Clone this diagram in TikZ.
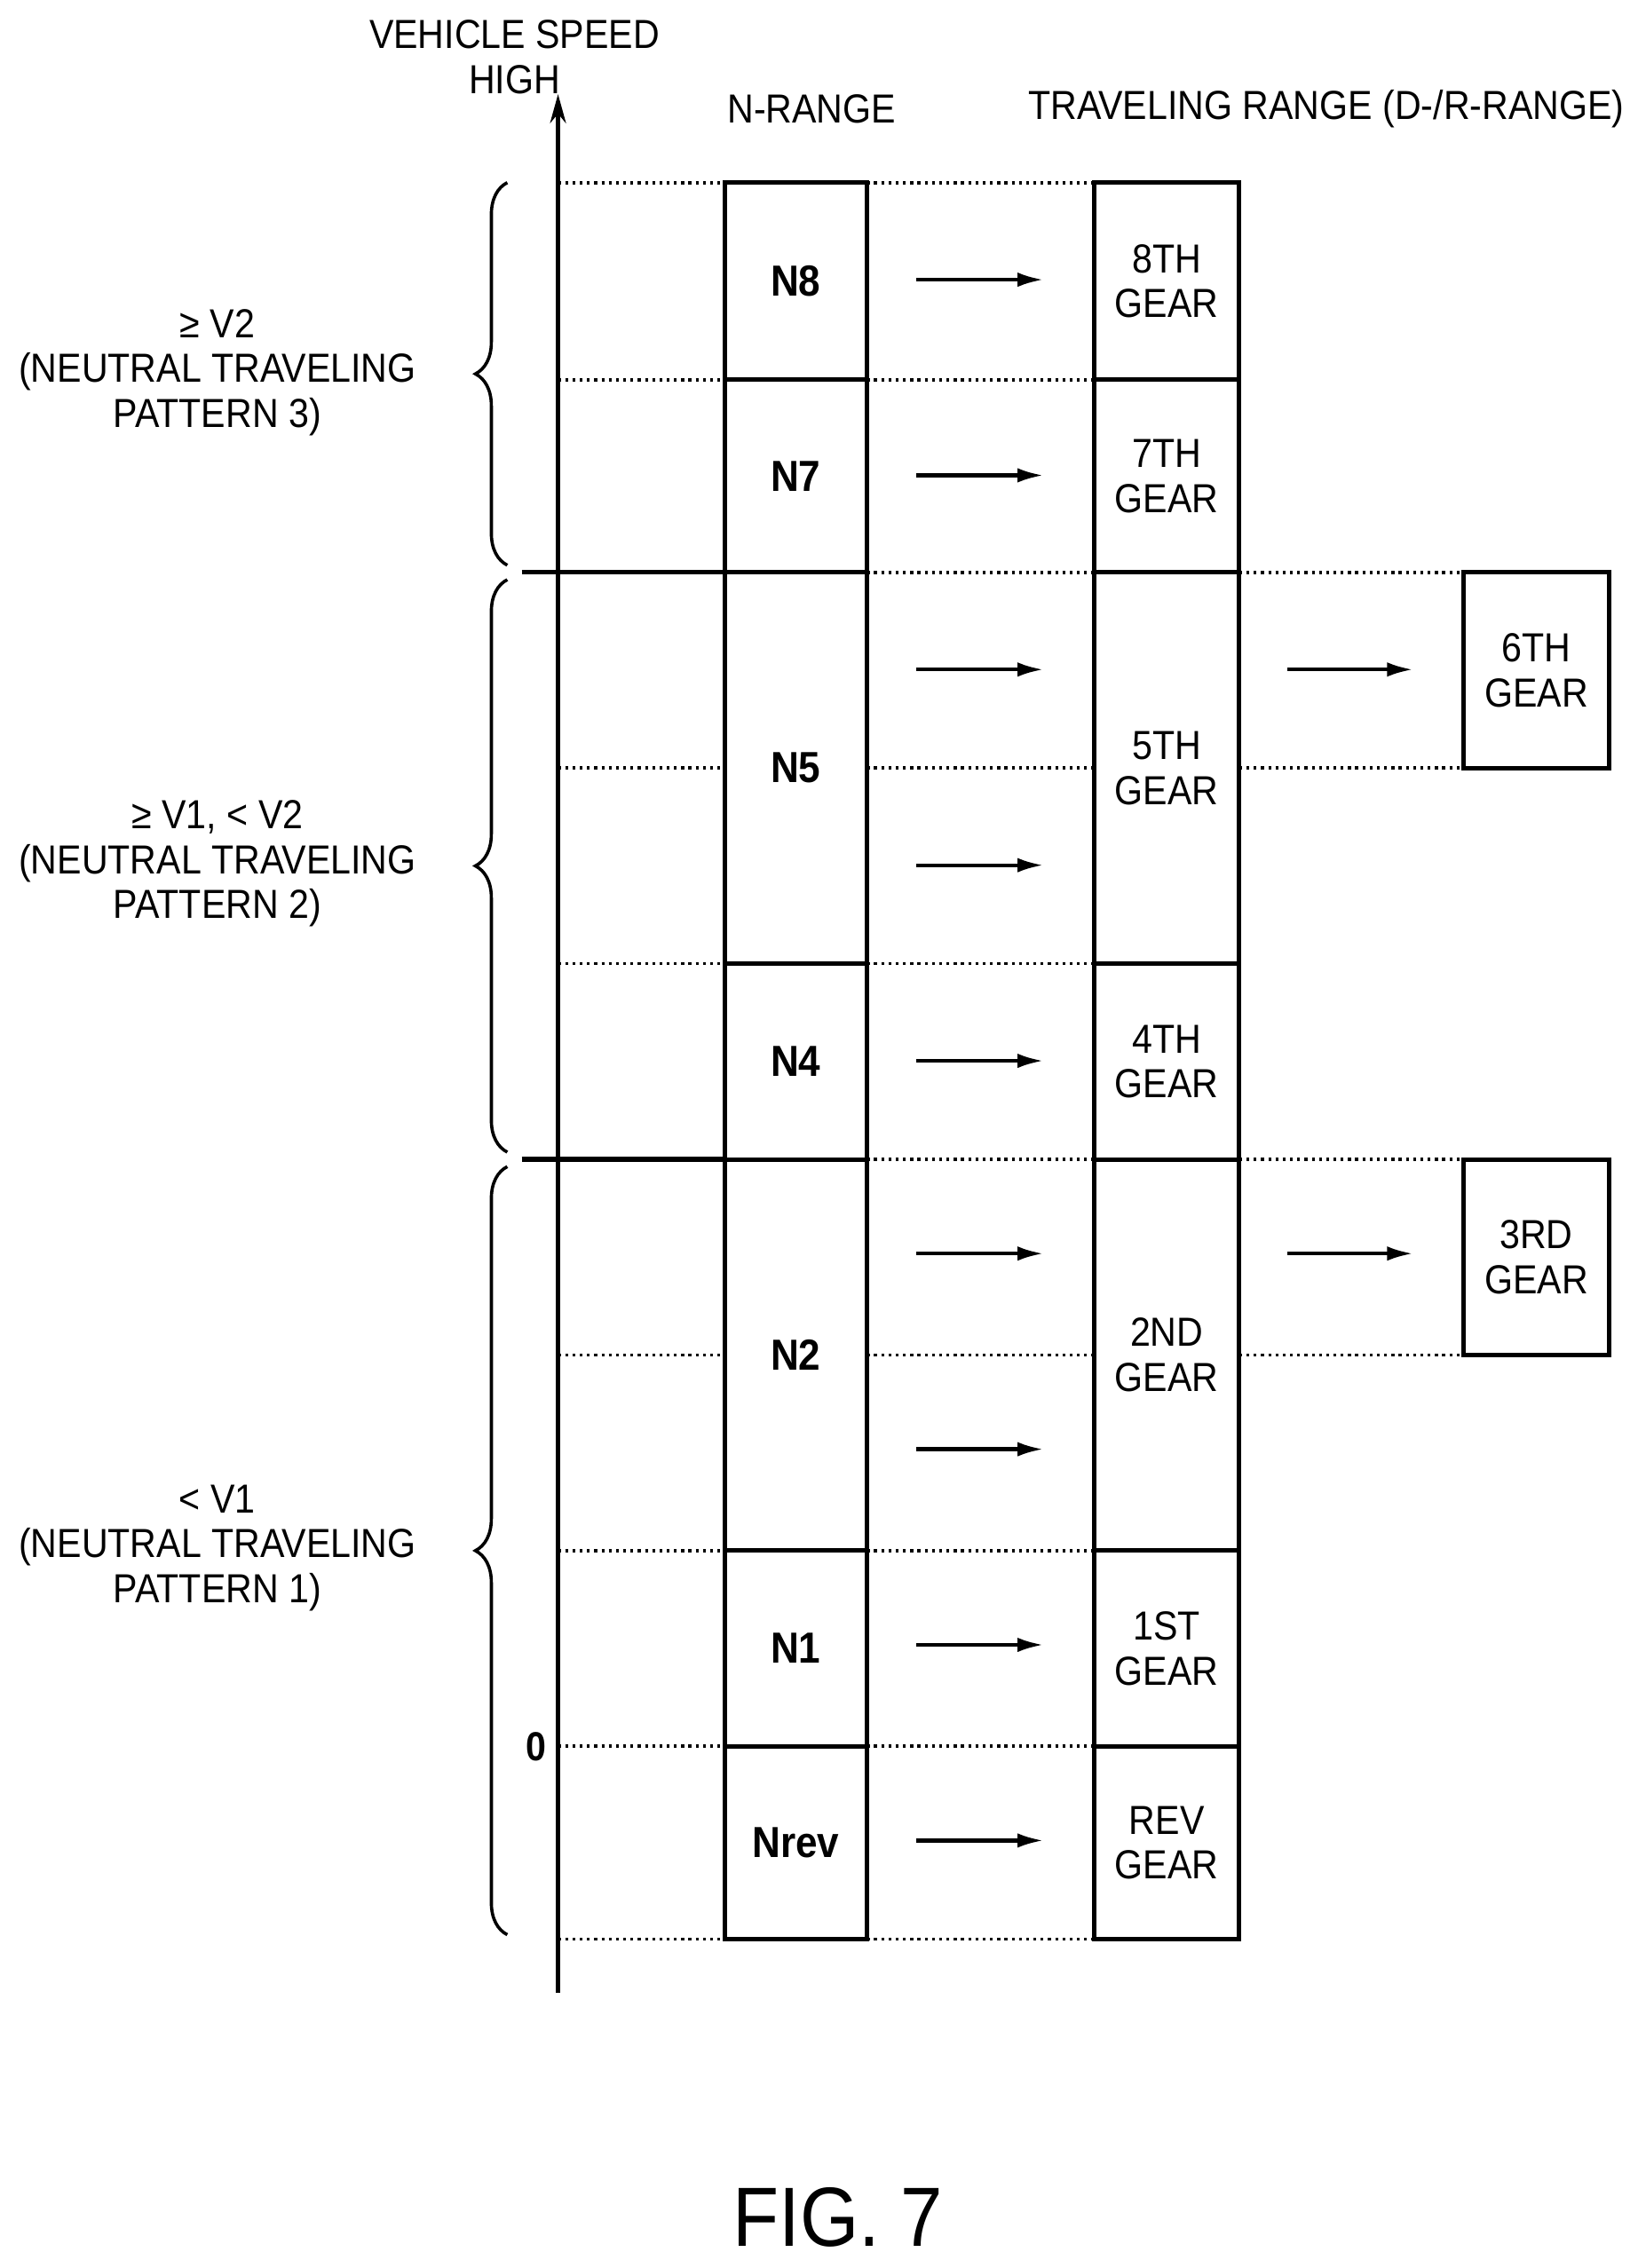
\documentclass[tikz,border=0pt]{standalone}
\usepackage{fontspec}
\setmainfont[FakeStretch=0.9]{Liberation Sans}
\usetikzlibrary{decorations.pathreplacing,arrows.meta}
\begin{document}
\begin{tikzpicture}[x=1pt,y=-1pt,
  txt/.style={font=\fontsize{28}{31}\selectfont,align=center,inner sep=0pt},
  nb/.style={draw,line width=3pt,font=\fontsize{30}{34}\selectfont\bfseries},
  gb/.style={draw,line width=3pt,font=\fontsize{28}{31}\selectfont,align=center},
  dot/.style={dash pattern=on 2pt off 3pt,line width=2.2pt},
  arr/.style={-{Latex[length=18pt,width=10pt]},line width=2.6pt},
  br/.style={decorate,decoration={brace,amplitude=22pt},line width=2.2pt}]
\useasboundingbox (0,0) rectangle (1130,1565);
% axis
\coordinate (a0) at (385,1375); \coordinate (a1) at (385,65);
\draw[-{Stealth[length=20pt,width=11pt]},line width=2.6pt] (a0) -- (a1);
\node[txt] (vs) at (355,24) {VEHICLE SPEED};
\node[txt] (hi) at (355,55) {HIGH};
\node[txt] (nr) at (560,75) {N-RANGE};
\node[txt] (tr) at (915,75) {TRAVELING RANGE (D-/R-RANGE)};
\node[txt,font=\fontsize{28}{31}\selectfont\bfseries] (z) at (370,1205) {0};
% dotted lines
\foreach \y in {126,262,530,665,935,1070,1205,1338} \draw[dot] (385,\y) -- (500,\y);
\draw[line width=3.2pt] (360,395) -- (500,395);
\draw[line width=3.2pt] (360,800) -- (500,800);
\foreach \y in {126,262,395,530,665,800,935,1070,1205,1338} \draw[dot] (598,\y) -- (755,\y);
\foreach \y in {395,530,800,935} \draw[dot] (855,\y) -- (1010,\y);
% N boxes
\node[nb,minimum width=98pt,minimum height=136pt] (n8) at (549,194) {N8};
\node[nb,minimum width=98pt,minimum height=133pt] (n7) at (549,328.5) {N7};
\node[nb,minimum width=98pt,minimum height=270pt] (n5) at (549,530) {N5};
\node[nb,minimum width=98pt,minimum height=135pt] (n4) at (549,732.5) {N4};
\node[nb,minimum width=98pt,minimum height=270pt] (n2) at (549,935) {N2};
\node[nb,minimum width=98pt,minimum height=135pt] (n1) at (549,1137.5) {N1};
\node[nb,minimum width=98pt,minimum height=133pt] (nr2) at (549,1271.5) {Nrev};
% gear boxes
\node[gb,minimum width=100pt,minimum height=136pt] (g8) at (805,194) {8TH\\GEAR};
\node[gb,minimum width=100pt,minimum height=133pt] (g7) at (805,328.5) {7TH\\GEAR};
\node[gb,minimum width=100pt,minimum height=270pt] (g5) at (805,530) {5TH\\GEAR};
\node[gb,minimum width=100pt,minimum height=135pt] (g4) at (805,732.5) {4TH\\GEAR};
\node[gb,minimum width=100pt,minimum height=270pt] (g2) at (805,935) {2ND\\GEAR};
\node[gb,minimum width=100pt,minimum height=135pt] (g1) at (805,1137.5) {1ST\\GEAR};
\node[gb,minimum width=100pt,minimum height=133pt] (gr) at (805,1271.5) {REV\\GEAR};
\node[gb,minimum width=100pt,minimum height=135pt] (g6) at (1060,462.5) {6TH\\GEAR};
\node[gb,minimum width=100pt,minimum height=135pt] (g3) at (1060,867.5) {3RD\\GEAR};
% arrows
\foreach \y in {193,328,462,597,732,865,1000,1135,1270} \draw[arr] (632,\y) -- (720,\y);
\foreach \y in {462,865} \draw[arr] (888,\y) -- (975,\y);
% braces
\draw[br] (350,390) -- (350,126);
\draw[br] (350,795) -- (350,400);
\draw[br] (350,1335) -- (350,805);
\node[txt] (l3) at (150,257) {≥ V2\\(NEUTRAL TRAVELING\\PATTERN 3)};
\node[txt] (l2) at (150,596) {≥ V1, < V2\\(NEUTRAL TRAVELING\\PATTERN 2)};
\node[txt] (l1) at (150,1068) {< V1\\(NEUTRAL TRAVELING\\PATTERN 1)};
\node[font=\fontsize{58}{62}\selectfont] (fig) at (578,1530) {FIG. 7};
\end{tikzpicture}
\end{document}
